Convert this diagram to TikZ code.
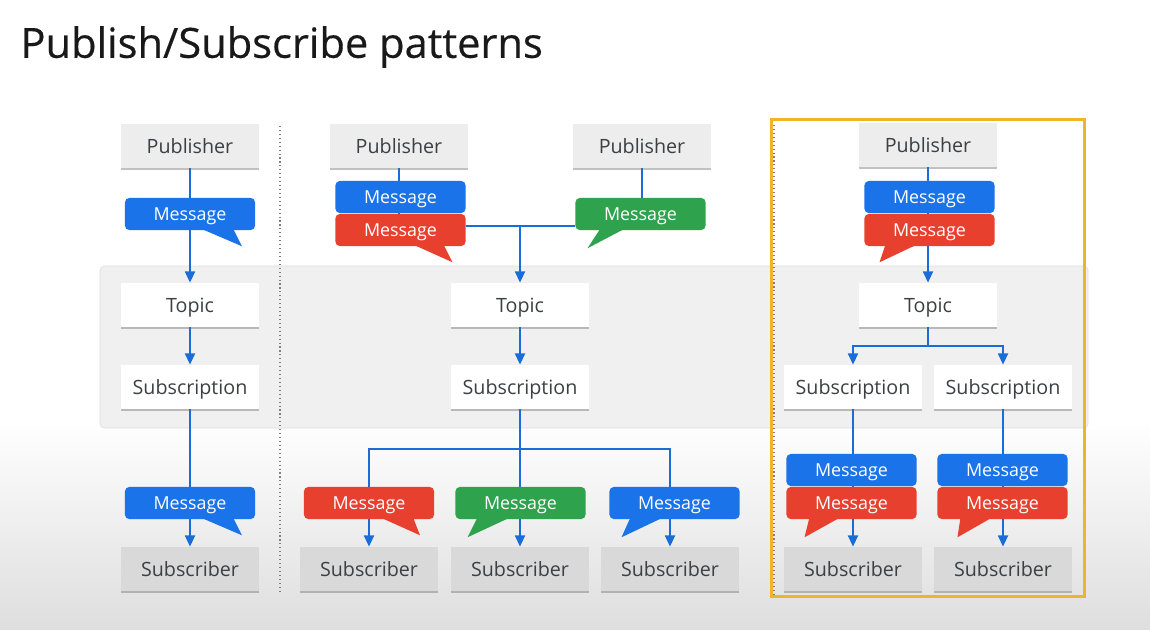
\documentclass[tikz,border=0pt]{standalone}
\usepackage{fontspec}
\setmainfont{Open Sans}
\usetikzlibrary{positioning, calc, arrows.meta, shadows}

\definecolor{gblue}{HTML}{1A73E8}
\definecolor{gred}{HTML}{E8402F}
\definecolor{ggreen}{HTML}{2FA24E}
\definecolor{gyellow}{HTML}{F0B429}
\definecolor{gwire}{HTML}{1A6DD8}
\definecolor{gtext}{HTML}{3C4043}

\pgfdeclarelayer{backdrop}
\pgfdeclarelayer{wires}
\pgfsetlayers{backdrop,wires,main}

\tikzset{
    box/.style = {rectangle, minimum height = 1.1cm, minimum width = 3.45cm, inner sep = 0pt,
        text = gtext, font = \fontsize{14}{16}\selectfont, text height = 12pt, text depth = 2pt,
        drop shadow = {shadow xshift = 0pt, shadow yshift = -1.2pt, opacity = 0.4, fill = black!60}},
    publisher/.style = {box, fill = black!7},
    topic/.style = {box, fill = white},
    subscriber/.style = {box, fill = black!15},
    msg/.style = {rectangle, rounded corners = 3pt, minimum height = 0.8cm, minimum width = 3.25cm,
        inner sep = 0pt, text = white, font = \fontsize{12.7}{14}\selectfont, text height = 11pt, text depth = 2pt, fill = #1},
    wire/.style = {draw = gwire, line width = 1.6pt},
    flow/.style = {wire, -{Triangle[length = 8pt, width = 7pt]}},
    divider/.style = {draw = black!50, line width = 0.8pt, dotted}
}

% name, colour, then the tail's three x offsets and its depth
\newcommand{\msgtail}[6]{
    \fill[#2] ($(#1.south)+(#3,-2)$) -- ($(#1.south)+(#4,#6)$) -- ($(#1.south)+(#5,-2)$) -- cycle;
}

\begin{document}
\begin{tikzpicture}[x=0.025cm, y=-0.025cm]

\useasboundingbox (0,0) rectangle (1150,630);

\begin{pgfonlayer}{backdrop}
    \fill[white] (0,0) rectangle (1150,630);
    \shade[top color = white, bottom color = black!13] (0,420) rectangle (1150,630);
    \draw[draw = black!13, fill = black!6, rounded corners = 3pt] (100,266) rectangle (1088,428);
    \draw[divider] (280,126) -- (280,593);
    \draw[divider] (774,125) -- (774,595);
\end{pgfonlayer}

\node[anchor = west, text = black!90, font = \fontsize{29.6}{34}\selectfont\addfontfeature{FakeBold=0.4}] (title) at (15.5,47) {Publish/Subscribe patterns};

\node[publisher] (pubA) at (190,146) {Publisher};
\node[msg = gblue] (msgA) at (190,214) {Message};
\msgtail{msgA}{gblue}{10}{52}{43}{16}
\node[topic] (topicA) at (190,305) {Topic};
\node[topic] (subnA) at (190,387) {Subscription};
\node[msg = gblue] (outA) at (190,503) {Message};
\msgtail{outA}{gblue}{10}{52}{43}{16}
\node[subscriber] (subrA) at (190,569) {Subscriber};

\node[publisher] (pubB) at (399,146) {Publisher};
\node[msg = gblue] (msgB) at (400.5,197) {Message};
\node[msg = gred] (redB) at (400.5,230) {Message};
\msgtail{redB}{gred}{12}{52}{43}{16}
\node[publisher] (pubC) at (642,146) {Publisher};
\node[msg = ggreen] (greenC) at (640.5,214) {Message};
\msgtail{greenC}{ggreen}{-15}{-53}{-40}{18}
\node[topic] (topicB) at (520,305) {Topic};
\node[topic] (subnB) at (520,387) {Subscription};
\coordinate (joinB) at ($(topicB.north |- redB.east)+(0,-4)$);
\coordinate (forkB) at (520,449);

\node[msg = gred] (outB) at (369,503) {Message};
\msgtail{outB}{gred}{11}{51}{44}{16}
\node[msg = ggreen] (outC) at (520.5,503) {Message};
\msgtail{outC}{ggreen}{-10}{-53}{-43}{18}
\node[msg = gblue] (outD) at (674.5,503) {Message};
\msgtail{outD}{gblue}{-11}{-53}{-44}{18}
\node[subscriber] (subrB) at (369,569) {Subscriber};
\node[subscriber] (subrC) at (520,569) {Subscriber};
\node[subscriber] (subrD) at (670,569) {Subscriber};

\node[publisher] (pubD) at (928,145) {Publisher};
\node[msg = gblue] (msgD) at (929.5,197) {Message};
\node[msg = gred] (redD) at (929.5,230) {Message};
\msgtail{redD}{gred}{-12}{-50}{-44}{16}
\node[topic] (topicD) at (928,305) {Topic};
\coordinate (forkD) at (928,346);
\node[topic] (subnD) at (853,387) {Subscription};
\node[topic] (subnE) at (1003,387) {Subscription};
\node[msg = gblue] (msgE) at (851.5,470) {Message};
\node[msg = gred] (redE) at (851.5,503) {Message};
\msgtail{redE}{gred}{-11}{-47}{-42}{18}
\node[msg = gblue] (msgF) at (1002.5,470) {Message};
\node[msg = gred] (redF) at (1002.5,503) {Message};
\msgtail{redF}{gred}{-10}{-45}{-42}{18}
\node[subscriber] (subrE) at (853,569) {Subscriber};
\node[subscriber] (subrF) at (1003,569) {Subscriber};

\draw[draw = gyellow, line width = 2.1pt] (771.5,119.5) rectangle (1084.5,596.5);

\begin{pgfonlayer}{wires}
    \draw[flow] (pubA.south) -- (topicA.north);
    \draw[flow] (topicA.south) -- (subnA.north);
    \draw[flow] (subnA.south) -- (subrA.north);

    \draw[wire] (pubB.south) -- (pubB |- redB.north);
    \draw[wire] (redB.east |- joinB) -- (greenC.west |- joinB);
    \draw[wire] (pubC.south) -- (pubC |- greenC.north);
    \draw[flow] (joinB) -- (topicB.north);
    \draw[flow] (topicB.south) -- (subnB.north);
    \draw[wire] (subnB.south) -- (forkB);
    \draw[flow] (forkB) -| (subrB.north);
    \draw[flow] (forkB) -- (subrC.north);
    \draw[flow] (forkB) -| (subrD.north);

    \draw[flow] (pubD.south) -- (topicD.north);
    \draw[wire] (topicD.south) -- (forkD);
    \draw[flow] (forkD) -| (subnD.north);
    \draw[flow] (forkD) -| (subnE.north);
    \draw[flow] (subnD.south) -- (subrE.north);
    \draw[flow] (subnE.south) -- (subrF.north);
\end{pgfonlayer}

\end{tikzpicture}
\end{document}
